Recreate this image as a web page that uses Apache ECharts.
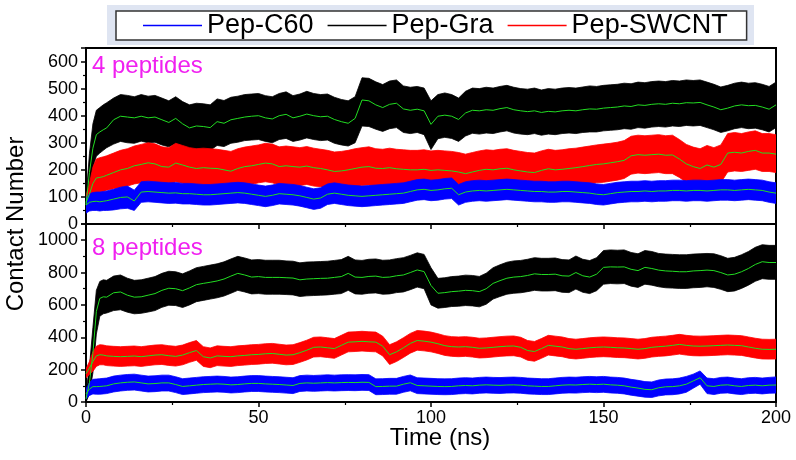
<!DOCTYPE html>
<html>
<head>
<meta charset="utf-8">
<script src="https://cdn.jsdelivr.net/npm/echarts@6/dist/echarts.min.js"></script>
<style>html,body{margin:0;padding:0;background:#fff}#c{width:796px;height:460px}</style>
</head>
<body>
<div id="c"></div>
<script>
// time points (ns)
const T = [0,1,2,3,4,5,6,8,10,12,14,16,18,20,22,24,26,28,30,32,34,36,38,40,42,44,46,48,50,52,54,56,58,60,62,64,66,68,70,72,74,76,78,80,82,84,86,88,90,92,94,96,98,100,102,104,106,108,110,112,114,116,118,120,122,124,126,128,130,132,134,136,138,140,142,144,146,148,150,152,154,156,158,160,162,164,166,168,170,172,174,176,178,180,182,184,186,188,190,192,194,196,198,200];
const seriesNames = ['Pep-C60', 'Pep-Gra', 'Pep-SWCNT'];
const panelLabels = ['4 peptides', '8 peptides'];
const xTicks = [0, 50, 100, 150, 200];

// ---- 4 peptides: Pep-Gra ----
const gra4Mean = [70,190,280,330,340,348,355,
 385,398,395,392,398,392,395,385,375,390,
 370,355,362,360,356,378,372,385,390,395,
 398,400,392,388,400,405,392,398,406,400,
 396,398,386,378,372,390,458,455,440,430,
 442,446,425,420,424,418,368,398,402,398,
 386,410,420,418,422,420,426,430,422,418,
 415,418,412,416,414,418,420,418,422,425,
 424,428,430,432,436,434,440,438,442,444,
 442,446,444,448,447,449,440,432,422,428,
 436,440,437,438,432,424,440];
const gra4Lo = [45,140,210,250,262,272,282,
 295,305,300,298,306,300,302,292,285,296,
 282,270,278,276,272,290,286,298,302,308,
 310,312,305,300,312,316,305,310,318,312,
 308,310,298,292,288,300,362,360,350,342,
 352,356,338,334,338,330,275,315,320,316,
 305,325,335,332,336,334,340,344,336,332,
 330,334,328,332,330,334,336,334,338,340,
 340,344,346,348,352,350,356,354,358,360,
 358,362,360,364,362,364,356,348,338,344,
 352,356,352,354,348,340,356];
const gra4Hi = [95,260,370,420,430,440,448,
 465,478,475,470,478,472,475,465,455,470,
 452,440,446,444,440,462,456,468,472,478,
 480,482,474,470,482,488,474,480,490,482,
 478,480,468,460,455,470,540,538,525,515,
 528,532,510,505,508,502,455,478,484,478,
 465,490,502,500,505,502,508,512,505,500,
 498,502,495,500,498,502,504,502,506,510,
 508,512,514,516,520,518,524,522,526,528,
 526,530,528,532,530,532,524,516,506,512,
 520,524,520,522,516,508,524];

// ---- 4 peptides: Pep-SWCNT ----
const swc4Mean = [80,110,150,170,172,175,180,
 190,200,205,215,220,226,222,212,210,225,
 218,210,205,208,206,205,200,195,205,212,
 215,220,225,222,212,215,212,210,214,208,
 205,200,194,196,200,205,210,212,206,205,
 208,204,202,200,200,202,198,200,198,196,
 192,186,192,198,202,200,204,206,200,196,
 192,190,198,204,200,202,205,208,212,216,
 220,222,226,230,235,252,256,254,256,258,
 254,255,240,222,212,205,218,210,220,262,
 265,262,268,272,262,262,258];
const swc4Lo = [55,75,100,115,118,120,125,
 130,135,140,148,152,158,155,145,142,156,
 150,142,138,140,138,136,132,128,136,144,
 146,152,156,152,144,146,144,142,146,140,
 138,132,126,128,132,136,142,144,138,136,
 140,136,134,132,132,134,130,132,130,128,
 124,118,124,130,134,132,136,138,132,128,
 124,122,130,136,132,134,136,140,144,148,
 152,154,158,162,168,184,188,186,188,190,
 186,186,172,154,144,138,150,142,152,192,
 196,194,198,202,194,194,190];
const swc4Hi = [105,150,210,240,245,248,252,
 262,272,278,288,294,300,296,285,282,298,
 290,282,278,280,278,276,272,268,278,284,
 288,292,298,295,285,288,285,282,286,280,
 276,272,266,268,272,278,282,285,278,276,
 280,276,274,272,272,274,270,272,270,268,
 264,258,264,270,274,272,276,278,272,268,
 264,262,270,276,272,274,278,280,284,288,
 292,295,298,302,308,324,328,326,328,330,
 326,328,312,294,284,278,290,282,292,334,
 338,334,340,344,334,334,330];

// ---- 4 peptides: Pep-C60 ----
const c604Mean = [70,80,83,84,82,84,86,
 92,98,100,85,118,120,118,116,114,115,
 112,112,110,108,108,110,112,114,116,114,
 110,106,102,106,112,110,108,104,98,92,
 96,110,114,110,106,104,102,104,106,108,
 110,112,114,120,126,128,124,126,130,132,
 108,118,122,124,122,124,126,128,126,124,
 122,120,120,118,118,120,120,118,116,114,
 110,108,112,116,118,120,120,122,120,122,
 122,124,124,122,124,124,122,124,126,126,
 124,126,128,126,124,118,114];
const c604Lo = [40,48,50,50,48,50,50,
 52,56,58,50,80,82,80,78,76,77,
 74,74,72,70,70,72,74,76,78,76,
 72,68,64,68,74,72,70,66,60,54,
 58,72,76,72,68,66,64,66,68,70,
 72,74,76,82,88,90,86,88,92,94,
 70,80,84,86,84,86,88,90,88,86,
 84,82,82,80,80,82,82,80,78,76,
 72,70,74,78,80,82,82,84,82,84,
 84,86,86,84,86,86,84,86,88,88,
 86,88,90,88,86,80,76];
const c604Hi = [95,112,116,118,118,120,122,
 128,136,140,125,156,158,156,154,152,153,
 150,150,148,146,146,148,150,152,154,152,
 148,144,140,144,150,148,146,142,136,130,
 134,148,152,148,144,142,140,142,144,146,
 148,150,152,158,164,166,162,164,168,170,
 146,156,160,162,160,162,164,166,164,162,
 160,158,158,156,156,158,158,156,154,152,
 148,146,150,154,156,158,158,160,158,160,
 160,162,162,160,162,162,160,162,164,164,
 162,164,166,164,162,156,152];

// ---- 8 peptides: Pep-Gra ----
const gra8Mean = [20,120,300,560,640,650,648,
 675,680,660,648,650,660,670,690,703,700,
 688,705,725,733,740,748,760,778,795,785,
 772,775,770,770,770,768,766,755,760,762,
 764,765,770,775,795,772,770,776,778,770,
 772,780,785,800,816,806,720,672,676,682,
 685,690,688,682,700,733,750,765,772,775,
 782,792,788,788,790,780,778,800,780,772,
 790,832,835,834,835,820,812,832,825,815,
 810,808,805,805,810,812,815,812,800,785,
 790,805,825,850,867,862,862];
const gra8Lo = [0,50,180,420,530,545,550,
 565,570,555,545,548,556,565,585,598,596,
 584,600,620,628,636,644,655,672,690,680,
 668,670,666,666,666,664,662,652,656,658,
 660,662,666,670,690,668,666,672,674,666,
 668,676,680,694,710,700,600,580,584,590,
 592,596,594,588,604,636,652,666,672,675,
 682,690,686,686,688,678,676,698,678,670,
 688,728,732,730,732,716,708,728,722,712,
 706,704,702,702,706,708,712,708,696,682,
 686,702,722,746,762,758,758];
const gra8Hi = [60,220,460,690,745,755,752,
 778,785,765,752,755,765,775,795,808,805,
 792,810,830,838,846,854,866,884,900,890,
 878,880,876,876,876,872,870,860,865,866,
 868,870,875,880,900,878,875,882,884,876,
 878,886,892,906,922,912,830,764,768,775,
 778,784,782,776,796,830,848,864,872,875,
 882,892,888,888,890,880,878,902,882,874,
 892,936,940,938,940,924,916,936,930,918,
 914,912,910,910,914,916,918,916,904,888,
 894,910,930,956,972,968,968];

// ---- 8 peptides: Pep-SWCNT ----
const swc8Mean = [175,210,250,285,292,290,285,
 282,280,282,284,280,285,290,292,286,282,
 290,305,318,280,272,285,282,280,285,288,
 292,294,298,300,295,290,292,305,320,338,
 340,335,330,350,370,372,375,372,370,345,
 292,310,335,362,380,376,370,360,348,342,
 340,342,338,332,334,338,342,345,346,338,
 318,312,330,350,345,340,330,326,330,335,
 338,340,338,335,334,330,326,330,338,342,
 345,350,356,350,346,345,346,348,350,352,
 350,348,340,332,326,325,326];
const swc8Lo = [150,170,190,220,230,230,225,
 222,220,222,224,220,225,230,232,226,222,
 230,245,258,220,212,225,222,220,225,228,
 232,234,238,240,235,230,232,245,260,278,
 280,275,270,290,310,312,315,312,310,285,
 232,250,275,302,320,316,310,300,288,282,
 280,282,278,272,274,278,282,285,286,278,
 258,252,270,290,285,280,270,266,270,275,
 278,280,278,275,274,270,266,270,278,282,
 285,290,296,290,286,285,286,288,290,292,
 290,288,280,272,266,265,266];
const swc8Hi = [205,250,310,345,354,352,347,
 344,342,344,346,342,347,352,354,348,344,
 352,367,380,342,334,347,344,342,347,350,
 354,356,360,362,357,352,354,367,382,400,
 402,397,392,412,432,434,437,434,432,407,
 354,372,397,424,442,438,432,422,410,404,
 402,404,400,394,396,400,404,407,408,400,
 380,374,392,412,407,402,392,388,392,397,
 400,402,400,397,396,392,388,392,400,404,
 407,412,418,412,408,407,408,410,412,414,
 412,410,402,394,388,387,388];

// ---- 8 peptides: Pep-C60 ----
const c608Mean = [50,80,95,95,96,98,100,
 112,118,122,124,118,112,114,118,118,108,
 96,100,104,108,110,112,110,106,108,112,
 115,115,112,110,108,105,102,115,118,116,
 118,120,118,120,121,120,122,121,95,96,
 98,98,110,119,102,100,98,96,95,96,
 100,102,100,104,106,104,103,105,106,104,
 100,98,96,96,100,104,106,105,108,110,
 108,110,106,104,100,92,86,78,76,88,
 94,95,100,110,130,150,100,96,104,106,
 100,96,102,104,100,104,105];
const c608Lo = [20,40,50,48,48,50,52,
 62,68,72,74,68,62,64,68,68,58,
 46,50,54,58,60,62,60,56,58,62,
 65,65,62,60,58,55,52,65,68,66,
 68,70,68,70,71,70,72,71,45,46,
 48,48,60,69,52,50,48,46,45,46,
 50,52,50,54,56,54,53,55,56,54,
 50,48,46,46,50,54,56,55,58,60,
 58,60,56,54,50,42,36,30,28,38,
 44,45,50,60,85,110,52,46,54,56,
 50,46,52,54,50,54,55];
const c608Hi = [80,120,140,142,144,146,148,
 160,166,170,172,166,160,162,166,166,156,
 144,148,152,156,158,160,158,154,156,160,
 163,163,160,158,156,153,150,163,166,164,
 166,168,166,168,169,168,170,169,143,144,
 146,146,158,167,150,148,146,144,143,144,
 148,150,148,152,154,152,151,153,154,152,
 148,146,144,144,148,152,154,153,156,158,
 156,158,154,152,148,140,134,126,124,136,
 142,143,148,158,172,192,148,144,152,154,
 148,144,150,152,148,152,155];

const COLORS = {'Pep-C60': '#0000ff', 'Pep-Gra': '#000000', 'Pep-SWCNT': '#ff0000'};
const GREEN = '#22dd22';
const FONT = 'Liberation Sans, Arial, sans-serif';

function pairs(arr) { return T.map((t, i) => [t, arr[i]]); }

// band between low and high envelopes, drawn as one polygon via the axes' scales
function band(name, lo, hi, idx) {
  const c = COLORS[name];
  const data = T.map((t, i) => [t, lo[i], hi[i]]);
  return {
    type: 'custom', name: name, xAxisIndex: idx, yAxisIndex: idx, color: c,
    itemStyle: { color: c }, silent: true, clip: true,
    encode: { x: 0, y: [1, 2] },
    data: data,
    renderItem: function (params, api) {
      if (params.dataIndex !== 0) return null;
      const top = [], bottom = [];
      for (let i = 0; i < data.length; i++) {
        top.push(api.coord([data[i][0], data[i][2]]));
        bottom.push(api.coord([data[i][0], data[i][1]]));
      }
      const points = top.concat(bottom.reverse());
      return { type: 'polygon', shape: { points: points }, style: { fill: c, stroke: c, lineWidth: 0.8 } };
    }
  };
}
function meanLine(arr, idx, key) {
  return { type: 'line', name: key + '-mean', xAxisIndex: idx, yAxisIndex: idx,
    data: pairs(arr), symbol: 'none', silent: true, color: GREEN,
    lineStyle: { width: 1, color: GREEN }, z: 5 };
}

const series = [
  band('Pep-Gra', gra4Lo, gra4Hi, 0),
  band('Pep-SWCNT', swc4Lo, swc4Hi, 0),
  band('Pep-C60', c604Lo, c604Hi, 0),
  band('Pep-Gra', gra8Lo, gra8Hi, 1),
  band('Pep-SWCNT', swc8Lo, swc8Hi, 1),
  band('Pep-C60', c608Lo, c608Hi, 1),
  meanLine(gra4Mean, 0, 'g4'), meanLine(swc4Mean, 0, 's4'), meanLine(c604Mean, 0, 'c4'),
  meanLine(gra8Mean, 1, 'g8'), meanLine(swc8Mean, 1, 's8'), meanLine(c608Mean, 1, 'c8')
];

function xAxis(idx, showLabels) {
  return {
    type: 'value', gridIndex: idx, min: xTicks[0], max: xTicks[xTicks.length - 1], interval: 50,
    axisLine: { show: true, onZero: false, lineStyle: { color: '#000', width: 2 } },
    axisTick: { show: true, inside: false, length: 5, lineStyle: { color: '#000', width: 1.5 } },
    minorTick: { show: true, splitNumber: 2, length: 3, lineStyle: { color: '#000', width: 1.2 } },
    splitLine: { show: false },
    axisLabel: { show: showLabels, fontSize: 18, color: '#000', fontFamily: FONT, margin: 7 }
  };
}
function yAxis(idx, max, interval) {
  return {
    type: 'value', gridIndex: idx, min: 0, max: max, interval: interval,
    axisLine: { show: true, lineStyle: { color: '#000', width: 2 } },
    axisTick: { show: true, inside: false, length: 5, lineStyle: { color: '#000', width: 1.5 } },
    minorTick: { show: true, splitNumber: 2, length: 3, lineStyle: { color: '#000', width: 1.2 } },
    splitLine: { show: false },
    axisLabel: { fontSize: 18, color: '#000', fontFamily: FONT, margin: 8, showMaxLabel: false,
      formatter: v => (v % interval === 0 ? String(v) : '') }
  };
}

const chart = echarts.init(document.getElementById('c'), null, { renderer: 'canvas' });
chart.setOption({
  animation: false,
  backgroundColor: '#fff',
  grid: [
    { left: 86, top: 48, width: 690, height: 176, show: true, borderColor: '#000', borderWidth: 2, backgroundColor: 'transparent' },
    { left: 86, top: 224, width: 690, height: 178, show: true, borderColor: '#000', borderWidth: 2, backgroundColor: 'transparent' }
  ],
  xAxis: [xAxis(0, false), xAxis(1, true)],
  yAxis: [yAxis(0, 650, 100), yAxis(1, 1100, 200)],
  legend: {
    data: seriesNames.map(n => ({ name: n, icon: 'rect',
      itemStyle: { color: COLORS[n], borderWidth: 0, borderColor: 'transparent' } })),
    left: 116, top: 11,
    itemWidth: 59, itemHeight: 1.6, itemGap: 14,
    padding: [1, 19, 1, 27],
    backgroundColor: '#fff', borderColor: '#333', borderWidth: 1.5,
    textStyle: { fontSize: 27, color: '#000', fontFamily: FONT },
    selectedMode: false
  },
  graphic: [
    { type: 'rect', left: 107, top: 5, z: -10, shape: { width: 647, height: 40 }, style: { fill: '#dfe5f2' } },
    { type: 'text', left: 92, top: 54, z: 10, style: { text: panelLabels[0], fill: '#f020f0', font: '24px ' + FONT } },
    { type: 'text', left: 92, top: 236, z: 10, style: { text: panelLabels[1], fill: '#f020f0', font: '24px ' + FONT } },
    { type: 'text', x: 16, y: 224, rotation: Math.PI / 2, z: 10,
      style: { text: 'Contact Number', fill: '#000', font: '24px ' + FONT, align: 'center', verticalAlign: 'middle' } },
    { type: 'text', x: 440, y: 438, z: 10,
      style: { text: 'Time (ns)', fill: '#000', font: '24px ' + FONT, align: 'center', verticalAlign: 'middle' } }
  ],
  series: series
});
</script>
</body>
</html>
